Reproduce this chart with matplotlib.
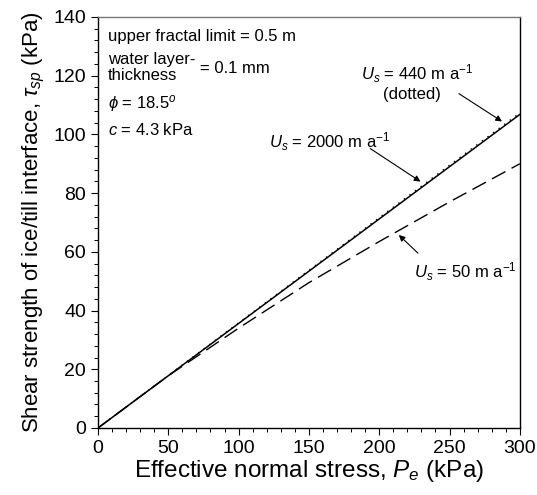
import matplotlib
matplotlib.use('Agg')
import matplotlib.pyplot as plt
from matplotlib.ticker import MultipleLocator

plt.rcParams['font.family'] = ['Liberation Sans', 'DejaVu Sans']
plt.rcParams['mathtext.fontset'] = 'custom'
plt.rcParams['mathtext.rm'] = 'Liberation Sans'
plt.rcParams['mathtext.it'] = 'Liberation Sans:italic'
plt.rcParams['mathtext.sf'] = 'Liberation Sans'

# data
pe = [0, 50, 100, 150, 200, 250, 300]
tau_2000 = [0, 17.8, 35.6, 53.4, 71.2, 89.0, 106.8]
tau_440 = [0, 17.9, 35.8, 53.7, 71.6, 89.5, 107.3]
tau_50 = [0, 17.8, 34.0, 49.5, 63.5, 77.0, 90.0]

fig = plt.figure(figsize=(5.37, 4.95), dpi=100)
ax = fig.add_axes([0.1825, 0.1354, 0.7855, 0.8303])

ax.plot(pe, tau_2000, color='black', lw=1.1, ls='-')
ax.plot(pe, tau_440, color='black', lw=1.0, ls=(0, (1, 4)))
ax.plot(pe, tau_50, color='black', lw=1.0, ls=(0, (11, 5)))

ax.set_xlim(0, 300)
ax.set_ylim(0, 140)
ax.xaxis.set_major_locator(MultipleLocator(50))
ax.xaxis.set_minor_locator(MultipleLocator(10))
ax.yaxis.set_major_locator(MultipleLocator(20))
ax.yaxis.set_minor_locator(MultipleLocator(4))
ax.tick_params(which='major', length=5, width=0.8, labelsize=14, direction='out')
ax.tick_params(which='minor', length=3, width=0.7, direction='out')
for s in ax.spines.values():
    s.set_linewidth(1.0)
ax.spines['top'].set_color('#777777')

ax.set_xlabel('Effective normal stress, $P_e$ (kPa)', fontsize=17.5, labelpad=1)
ax.set_ylabel('Shear strength of ice/till interface, $\\tau_{sp}$ (kPa)', fontsize=16, labelpad=5)

# parameter block
fs = 12
ax.text(7.1, 133.2, 'upper fractal limit = 0.5 m', fontsize=fs, va='center')
ax.text(7.1, 125.6, 'water layer-', fontsize=fs, va='center')
ax.text(7.1, 119.9, 'thickness', fontsize=fs, va='center')
ax.text(72.5, 122.3, '= 0.1 mm', fontsize=fs, va='center')
ax.text(7.1, 110.4, '$\\phi$ = 18.5$^o$', fontsize=fs, va='center')
ax.text(7.1, 101.5, '$c$ = 4.3 kPa', fontsize=fs, va='center')

arrow = dict(arrowstyle='-|>', color='black', lw=0.8, mutation_scale=9)
ax.text(227, 120.6, '$U_s$ = 440 m a$^{-1}$', fontsize=fs, ha='center', va='center')
ax.text(223, 113.6, '(dotted)', fontsize=fs, ha='center', va='center')
ax.annotate('', xy=(289, 103.9), xytext=(255, 114.4), arrowprops=arrow)

ax.text(165, 97.4, '$U_s$ = 2000 m a$^{-1}$', fontsize=fs, ha='center', va='center')
ax.annotate('', xy=(231, 83.4), xytext=(192, 95.7), arrowprops=arrow)

ax.text(261.5, 53.1, '$U_s$ = 50 m a$^{-1}$', fontsize=fs, ha='center', va='center')
ax.annotate('', xy=(212.5, 66.4), xytext=(229, 58.9), arrowprops=arrow)

fig.savefig('out.png', dpi=100)
